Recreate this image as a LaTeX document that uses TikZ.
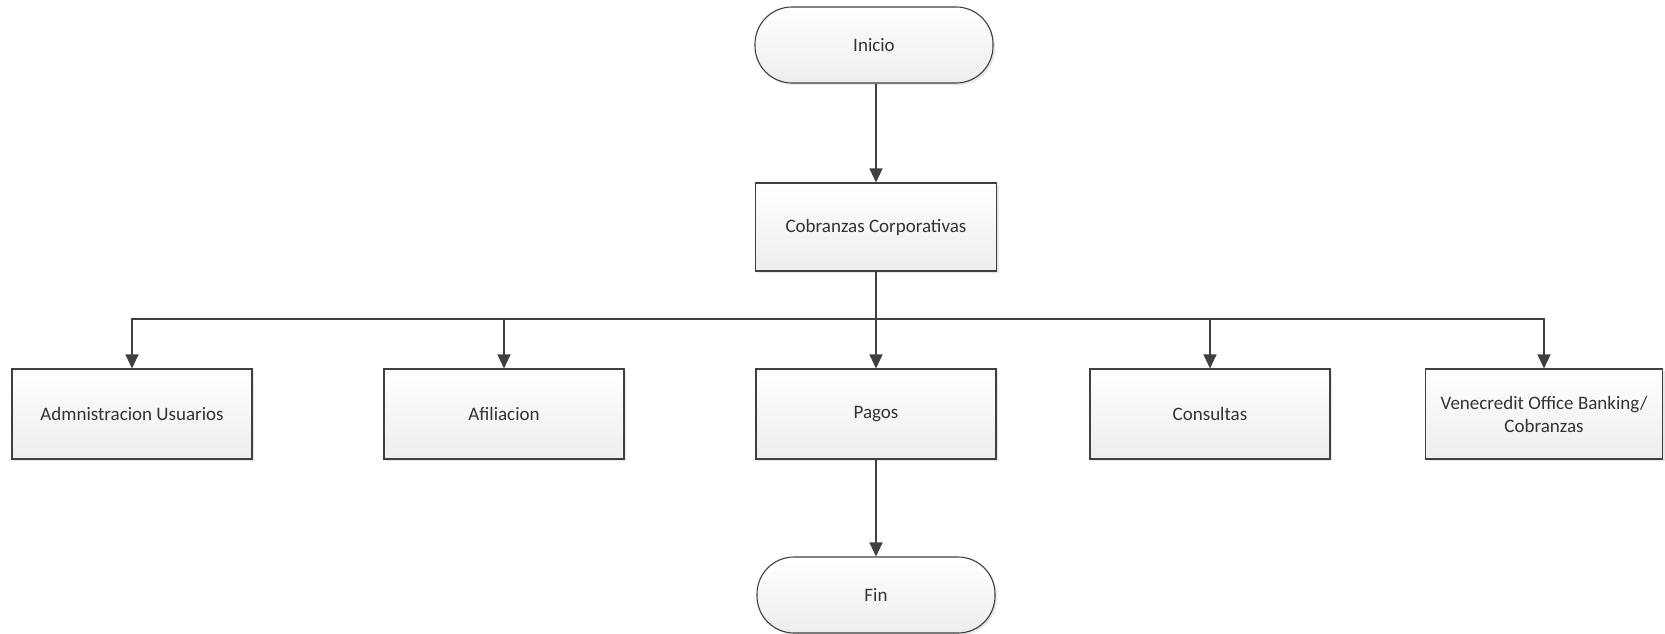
\documentclass[tikz,border=0pt]{standalone}
\usepackage{fontspec}
\setmainfont{Carlito}
\usetikzlibrary{shadows,arrows.meta}
\begin{document}
\begin{tikzpicture}[x=1pt,y=1pt,
  every node/.style={font=\fontsize{19}{23}\selectfont, text=black!80},
  base/.style={draw=black!75, line width=1.1pt, top color=white, bottom color=black!7,
    inner sep=0pt, align=center,
    drop shadow={opacity=0.2, shadow xshift=2pt, shadow yshift=-2pt}},
  term/.style={base, rounded corners=37pt, minimum width=238pt, minimum height=76pt},
  proc/.style={base, minimum width=240pt, minimum height=90pt},
  conn/.style={draw=black!75, line width=1.1pt, -{Triangle[length=14pt,width=13pt]}},
  link/.style={draw=black!75, line width=1.1pt}]
\useasboundingbox (0,0) rectangle (1665,-634);
\node[term] (inicio) at (874,-45) {Inicio};
\node[proc, minimum width=241pt, minimum height=88pt] (cob) at (876,-227) {Cobranzas Corporativas};
\node[proc] (adm) at (132,-414) {Admnistracion Usuarios};
\node[proc] (afi) at (504,-414) {Afiliacion};
\node[proc] (pag) at (876,-414) {Pagos};
\node[proc] (con) at (1210,-414) {Consultas};
\node[proc, minimum width=237pt] (ven) at (1544,-414) {Venecredit Office Banking/\\Cobranzas};
\node[term] (fin) at (876,-595) {Fin};
\coordinate (bus) at (876,-319);
\draw[conn] (inicio.south -| cob.north) -- (cob.north);
\draw[link] (cob.south) -- (bus);
\foreach \b in {adm,afi,pag,con,ven}{
  \draw[conn] (bus) -| (\b.north);
}
\draw[conn] (pag.south) -- (fin.north);
\end{tikzpicture}
\end{document}
